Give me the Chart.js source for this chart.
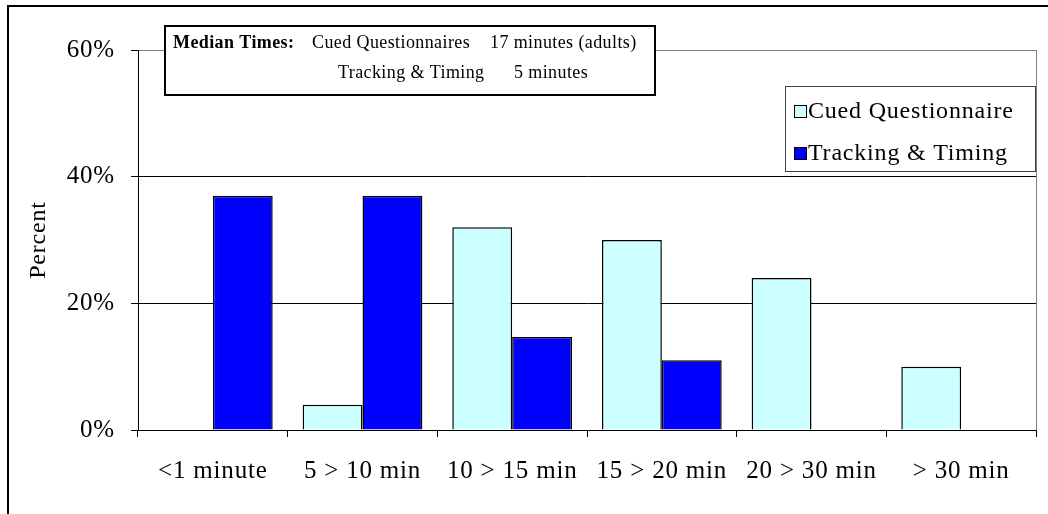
<!DOCTYPE html>
<html>
<head>
<meta charset="utf-8">
<title>Median times</title>
<script src="https://cdn.jsdelivr.net/npm/chart.js@4.4.0/dist/chart.umd.min.js"></script>
<style>
    html, body { margin: 0; padding: 0; background: #fff; overflow: hidden; }
    #wrap { position: relative; width: 1048px; height: 514px; }
</style>
</head>
<body>
<div id="wrap"><canvas id="chart"></canvas></div>
<script>
// --- data ---
const categories = ['<1 minute', '5 > 10 min', '10 > 15 min', '15 > 20 min', '20 > 30 min', '> 30 min'];
const cuedValues = [0, 4, 32, 30, 24, 10];
const trackingValues = [37, 37, 14.7, 11, 0, 0];
const seriesNames = ['Cued Questionnaire', 'Tracking & Timing'];
const percentTicks = [0, 20, 40, 60];
const medianGroups = ['Cued Questionnaires', 'Tracking & Timing'];
const medianTimes = ['17 minutes (adults)', '5 minutes'];

const SERIF = "'Liberation Serif', 'Times New Roman', serif";

// Excel-ish wide text spacing for everything drawn on the canvas
const spacingPlugin = {
    id: 'spacing',
    beforeLayout(chart) { chart.ctx.letterSpacing = '0.8px'; },
    beforeDraw(chart) { chart.ctx.letterSpacing = '0.8px'; }
};

// frame, plot border, legend and the median notes box
const decorPlugin = {
    id: 'decor',
    afterDraw(chart) {
        const ctx = chart.ctx;
        const area = chart.chartArea;
        ctx.save();

        // right edge of plot area
        ctx.strokeStyle = '#808080';
        ctx.lineWidth = 1;
        ctx.beginPath();
        ctx.moveTo(Math.round(area.right) + 0.5, area.top);
        ctx.lineTo(Math.round(area.right) + 0.5, area.bottom);
        ctx.stroke();

        // outer chart frame (runs off the picture right and bottom)
        ctx.strokeStyle = '#000';
        ctx.lineWidth = 2;
        ctx.strokeRect(8, 6, 1200, 800);

        // legend
        ctx.fillStyle = '#fff';
        ctx.fillRect(785, 86, 251, 85);
        ctx.strokeStyle = '#404040';
        ctx.lineWidth = 1;
        ctx.strokeRect(785.5, 86.5, 250, 85);
        ctx.font = '24px ' + SERIF;
        ctx.textBaseline = 'middle';
        ctx.textAlign = 'left';
        chart.data.datasets.forEach((ds, i) => {
            const y = 111 + i * 42;
            ctx.fillStyle = ds.backgroundColor;
            ctx.fillRect(794, y - 6, 12, 12);
            ctx.strokeStyle = '#000';
            ctx.strokeRect(794.5, y - 5.5, 12, 12);
            ctx.fillStyle = '#000';
            ctx.fillText(ds.label, 808, y + 1);
        });

        // median times box
        ctx.fillStyle = '#fff';
        ctx.fillRect(165, 26, 490, 69);
        ctx.strokeStyle = '#000';
        ctx.lineWidth = 2;
        ctx.strokeRect(165, 26, 490, 69);
        ctx.fillStyle = '#000';
        ctx.letterSpacing = '0.4px';
        ctx.font = 'bold 18px ' + SERIF;
        ctx.fillText('Median Times:', 173, 43);
        ctx.font = '18px ' + SERIF;
        ctx.fillText(medianGroups[0], 312, 43);
        ctx.fillText(medianTimes[0], 490, 43);
        ctx.fillText(medianGroups[1], 338, 73);
        ctx.fillText(medianTimes[1], 514, 73);

        ctx.restore();
    }
};

const ctx = document.getElementById('chart').getContext('2d');

new Chart(ctx, {
    type: 'bar',
    data: {
        labels: categories,
        datasets: [
            {
                label: seriesNames[0],
                data: cuedValues,
                backgroundColor: '#CCFFFF',
                borderColor: '#000',
                borderWidth: 1.5
            },
            {
                label: seriesNames[1],
                data: trackingValues,
                backgroundColor: '#0000FF',
                borderColor: '#000',
                borderWidth: 1.5
            }
        ]
    },
    options: {
        responsive: true,
        maintainAspectRatio: false,
        animation: false,
        devicePixelRatio: 1,
        layout: {
            padding: { left: 8, top: 50, right: 12, bottom: 0 }
        },
        datasets: {
            bar: {
                categoryPercentage: 0.8,
                barPercentage: 1.0
            }
        },
        plugins: {
            legend: { display: false },
            tooltip: { enabled: false }
        },
        scales: {
            x: {
                grid: {
                    drawOnChartArea: false,
                    offset: true,
                    color: '#000',
                    tickLength: 7
                },
                border: { color: '#000', width: 1 },
                ticks: {
                    color: '#000',
                    font: { family: SERIF, size: 25 },
                    padding: 19,
                    maxRotation: 0,
                    autoSkip: false
                },
                afterFit(scale) { scale.height = 84; }
            },
            y: {
                min: percentTicks[0],
                max: percentTicks[percentTicks.length - 1],
                afterBuildTicks(scale) {
                    scale.ticks = percentTicks.map(v => ({ value: v }));
                },
                grid: {
                    color: c => (c.tick && c.tick.value === 60 ? '#808080' : '#000'),
                    tickColor: '#000',
                    tickLength: 7
                },
                border: { color: '#000', width: 1 },
                ticks: {
                    color: '#000',
                    font: { family: SERIF, size: 25 },
                    padding: 16,
                    callback: v => v + '%'
                },
                title: {
                    display: true,
                    text: 'Percent',
                    color: '#000',
                    font: { family: SERIF, size: 24 },
                    padding: { top: 16, bottom: 0 }
                },
                afterFit(scale) { scale.width = 130; }
            }
        }
    },
    plugins: [spacingPlugin, decorPlugin]
});
</script>
</body>
</html>
